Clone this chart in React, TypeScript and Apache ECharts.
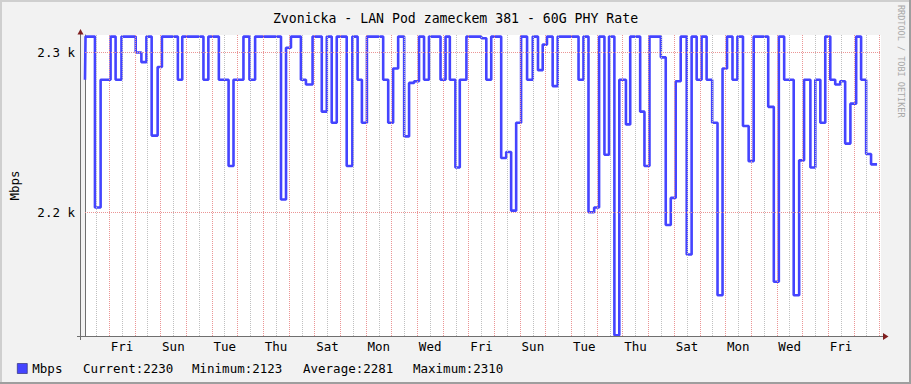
import React, { useEffect, useRef } from 'react';
import * as echarts from 'echarts';

const TITLE = 'Zvonicka - LAN Pod zameckem 381 - 60G PHY Rate';
const UNIT = 'Mbps';
const WATERMARK = 'RRDTOOL / TOBI OETIKER';

// time in hours from the start of the graph, value held from that time on
const TIMES = [
  0, 0.5, 9.3, 14.6, 23.9, 28.6, 34.1, 47.4, 52.7, 57.4, 62.3, 67.9, 71.9, 86.8, 90.9, 110.7, 115.3, 125.1,
  134.2, 138.8, 148.1, 153.7, 159.0, 183.2, 187.9, 192.5, 201.8, 206.5, 212.7, 221.3, 226.0, 230.6, 235.3, 244.6, 249.9,
  254.8, 258.8, 263.5, 278.7, 283.4, 288.0, 292.7, 298.3, 302.9, 307.6, 312.2, 316.9, 321.5, 332.3, 337.0, 341.0, 346.2, 350.3, 356.5, 370.4, 375.1, 379.7,
  389.0, 393.7, 398.3, 403.0, 407.6, 413.2, 418.5, 423.4, 427.8, 431.8, 437.1, 441.8, 461.3, 465.9, 470.6, 475.9, 480.5, 485.5, 489.8, 494.8, 499.4, 505.6,
  509.6, 518.9, 522.9, 527.6, 538.2, 542.8, 547.5, 552.1, 556.8, 562.4, 567.0, 571.7, 576.3, 581.0, 586.2, 591.2, 595.9, 600.1, 605.2, 609.8, 615.0, 620.3, 625.0,
  638.6, 643.8, 648.5, 653.5, 662.4, 667.5, 672.1, 678.0, 682.6, 687.3, 691.9, 696.6, 701.2, 705.9, 710.5, 715.4, 720.8, 725.4, 730.1, 734.7,
];
const VALUES = [
  2283, 2310, 2203, 2283, 2310, 2283, 2310, 2300, 2294, 2310, 2248, 2291, 2310, 2283, 2310, 2283, 2310, 2283,
  2229, 2283, 2310, 2283, 2310, 2208, 2303, 2310, 2283, 2280, 2310, 2263, 2310, 2256, 2310, 2229, 2310,
  2283, 2256, 2310, 2283, 2256, 2290, 2310, 2247.5, 2281, 2282, 2310, 2283, 2310, 2283, 2310, 2283, 2228, 2283, 2310, 2309, 2283, 2310,
  2234, 2237.7, 2201, 2256, 2310, 2283, 2310, 2289, 2305, 2310, 2279, 2310, 2283, 2310, 2200, 2203, 2310, 2236, 2310, 2123, 2283, 2255,
  2310, 2263, 2229, 2310, 2297, 2192, 2209, 2282, 2310, 2173.5, 2310, 2283, 2310, 2283, 2256, 2148, 2290, 2310, 2283, 2310, 2254, 2232, 2310,
  2266, 2156.5, 2310, 2283, 2148, 2232.5, 2283, 2228, 2283, 2256, 2310, 2283, 2280, 2282, 2243, 2268, 2310, 2283, 2236.5, 2230,
];
const END_TIME = 740.3;

const X_MIN = 0;
const X_MAX = 744;
const Y_MIN = 2122.5;
const Y_MAX = 2311;
const Y_TICKS = [2200, 2300];
const FIRST_MIDNIGHT = 22.6;
const DAY_COUNT = 31;
const DAY_LABELS = ['Fri', 'Sun', 'Tue', 'Thu', 'Sat', 'Mon', 'Wed', 'Fri', 'Sun', 'Tue', 'Thu', 'Sat', 'Mon', 'Wed', 'Fri'];
const LEGEND_STATS = ['Current:2230', 'Minimum:2123', 'Average:2281', 'Maximum:2310'];
const LEGEND_STAT_X = [83, 192, 303, 413];

const MONO = '"DejaVu Sans Mono", "Liberation Mono", monospace';
const LINE_COLOR = '#4444ff';
const MAJOR = '#eb9595';
const MINOR = '#c0c0c0';
const AXIS = '#6f6f6f';
const ARROW = '#7f1f1f';

export default function App() {
  const ref = useRef<HTMLDivElement>(null);
  useEffect(() => {
    if (!ref.current) return;
    const chart = echarts.init(ref.current, undefined, { renderer: 'svg' });

    const lineData: [number, number][] = TIMES.map((t, i) => [t, VALUES[i]]);
    lineData.push([END_TIME, VALUES[VALUES.length - 1]]);

    const gridMarks: any[] = [];
    for (let d = 0; d < DAY_COUNT; d++) {
      gridMarks.push({ xAxis: FIRST_MIDNIGHT - 12 + d * 24, lineStyle: { color: MINOR, width: 1, type: [1, 1] } });
      gridMarks.push({ xAxis: FIRST_MIDNIGHT + d * 24, lineStyle: { color: MAJOR, width: 1, type: [1, 1] } });
    }
    Y_TICKS.forEach((v) => gridMarks.push({ yAxis: v, lineStyle: { color: MAJOR, width: 1, type: [1, 1] } }));
    const labelValues = DAY_LABELS.map((_, k) => FIRST_MIDNIGHT + 12 + 48 * k);

    const W = 911, H = 384;
    const option: any = {
      animation: false,
      backgroundColor: '#f2f2f2',
      title: {
        text: TITLE,
        left: 'center',
        top: 7,
        textStyle: { fontFamily: MONO, fontSize: 13.2, fontWeight: 'normal', color: '#000' },
      },
      legend: {
        data: [{ name: UNIT, icon: 'rect' }],
        left: 12,
        top: 357,
        itemWidth: 10,
        itemHeight: 10,
        itemGap: 5,
        selectedMode: false,
        textStyle: { fontFamily: MONO, fontSize: 12.5, color: '#000' },
        itemStyle: { borderColor: '#222266', borderWidth: 0.6 },
      },
      grid: {
        left: 81, top: 35, width: 800, height: 301,
        show: true, backgroundColor: '#ffffff', borderWidth: 0,
      },
      xAxis: {
        type: 'value',
        min: X_MIN,
        max: X_MAX,
        axisLine: { show: true, lineStyle: { color: AXIS, width: 1 } },
        axisTick: { show: false },
        splitLine: { show: false },
        minorSplitLine: { show: false },
        axisLabel: {
          customValues: labelValues,
          formatter: (v: number) => DAY_LABELS[Math.round((v - FIRST_MIDNIGHT - 12) / 48)] ?? '',
          fontFamily: MONO,
          fontSize: 12.5,
          color: '#000',
          margin: 4,
        },
      },
      yAxis: {
        type: 'value',
        min: Y_MIN,
        max: Y_MAX,
        name: UNIT,
        nameLocation: 'middle',
        nameRotate: 90,
        nameGap: 64,
        nameTextStyle: { fontFamily: MONO, fontSize: 12.5, color: '#000' },
        axisLine: { show: true, lineStyle: { color: AXIS, width: 1 } },
        axisTick: { show: false },
        splitLine: { show: false },
        minorSplitLine: { show: false },
        axisLabel: {
          customValues: Y_TICKS,
          formatter: (v: number) => (v / 1000).toFixed(1) + ' k',
          fontFamily: MONO,
          fontSize: 12.5,
          color: '#000',
          margin: 10,
        },
      },
      series: [
        {
          type: 'line',
          name: 'grid',
          data: [],
          silent: true,
          z: 1,
          markLine: {
            silent: true,
            symbol: ['none', 'none'],
            label: { show: false },
            emphasis: { disabled: true },
            animation: false,
            data: gridMarks,
          },
        },
        {
          type: 'line',
          name: UNIT,
          step: 'end',
          data: lineData,
          showSymbol: false,
          symbol: 'none',
          z: 3,
          color: LINE_COLOR,
          lineStyle: { color: LINE_COLOR, width: 2.6 },
        },
      ],
      graphic: [
        { type: 'rect', shape: { x: 0, y: 0, width: W, height: 2 }, style: { fill: '#cfcfcf' }, silent: true },
        { type: 'rect', shape: { x: 0, y: 0, width: 2, height: H }, style: { fill: '#cfcfcf' }, silent: true },
        { type: 'rect', shape: { x: 0, y: H - 2, width: W, height: 2 }, style: { fill: '#9e9e9e' }, silent: true },
        { type: 'rect', shape: { x: W - 2, y: 0, width: 2, height: H }, style: { fill: '#9e9e9e' }, silent: true },
        { type: 'line', shape: { x1: 77, y1: 336.5, x2: 884, y2: 336.5 }, style: { stroke: AXIS, lineWidth: 1 }, silent: true, z: 10 },
        { type: 'line', shape: { x1: 80.5, y1: 340, x2: 80.5, y2: 33 }, style: { stroke: AXIS, lineWidth: 1 }, silent: true, z: 10 },
        { type: 'polygon', shape: { points: [[883, 333], [888.5, 336.5], [883, 340]] }, style: { fill: ARROW }, silent: true, z: 10 },
        { type: 'polygon', shape: { points: [[77.5, 34.5], [80.5, 29], [83.5, 34.5]] }, style: { fill: ARROW }, silent: true, z: 10 },
        {
          type: 'text',
          x: 901,
          y: 5,
          rotation: -Math.PI / 2,
          style: { text: WATERMARK, fontFamily: MONO, fontSize: 8.5, fill: '#a8a8a8', align: 'left', verticalAlign: 'middle' },
          silent: true,
        },
        ...LEGEND_STATS.map((s, i) => ({
          type: 'text',
          x: LEGEND_STAT_X[i],
          y: 368.5,
          style: { text: s, fontFamily: MONO, fontSize: 12.5, fill: '#000', align: 'left', verticalAlign: 'middle' },
          silent: true,
        })),
      ],
    };
    chart.setOption(option);
    return () => chart.dispose();
  }, []);
  return <div ref={ref} style={{ width: 911, height: 384, position: 'absolute', left: 0, top: 0 }} />;
}
